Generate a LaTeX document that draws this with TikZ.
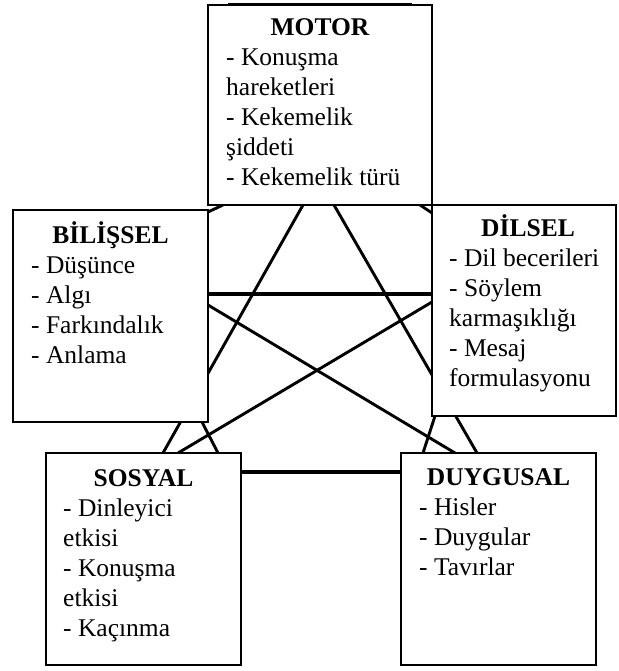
\documentclass[tikz,border=0pt]{standalone}
\usepackage{fontspec}
\setmainfont{Liberation Serif}
\usetikzlibrary{calc}
\pgfdeclarelayer{paper}
\pgfdeclarelayer{background}
\pgfsetlayers{paper,background,main}
\newcommand\bodylines[1]{\vtop{\halign{##\hfil\cr#1\crcr}}}
\begin{document}
\begin{tikzpicture}[x=1pt,y=-1pt,
  box/.style={draw=black, line width=1.5pt, fill=white, inner sep=0pt, outer sep=0pt, anchor=north west},
  ttl/.style={font=\fontsize{25.5}{30}\selectfont\bfseries, inner sep=0pt, anchor=base},
  body/.style={font=\fontsize{25.5}{30}\selectfont, inner sep=0pt, anchor=base west},
  link/.style={line width=2.9pt, draw=black},
  hlink/.style={line width=3.9pt, draw=black},
  rim/.style={line width=2.4pt, draw=black}]
\begin{pgfonlayer}{paper}
\fill[white] (0,0) rectangle (618,671);
\end{pgfonlayer}
\useasboundingbox (0,0) rectangle (618,671);

% boxes
\node[box, minimum width=224pt, minimum height=200pt] (motor) at (208,5) {};
\node[box, minimum width=195pt, minimum height=212pt] (bilissel) at (13,210) {};
\node[box, minimum width=184pt, minimum height=211pt] (dilsel) at (432,205) {};
\node[box, minimum width=195pt, minimum height=212pt] (sosyal) at (46,453) {};
\node[box, minimum width=195pt, minimum height=212pt] (duygusal) at (401,453) {};

% heavier rims of the MOTOR box
\draw[rim] ($(motor.north west)+(20,-0.4)$) -- ($(motor.north east)+(-20,-0.4)$);
\draw[rim] ($(motor.south west)+(19,0)$) -- ($(motor.south east)+(-20,0)$);

% texts
\node[ttl] (motor-t) at (320,35.5) {MOTOR};
\node[body] (motor-b) at (226,66) {\bodylines{- Konuşma\cr hareketleri\cr - Kekemelik\cr şiddeti\cr - Kekemelik türü}};

\node[ttl] (bilissel-t) at (110.5,243) {BİLİŞSEL};
\node[body] (bilissel-b) at (31,273) {\bodylines{- Düşünce\cr - Algı\cr - Farkındalık\cr - Anlama}};

\node[ttl] (dilsel-t) at (528,236) {DİLSEL};
\node[body] (dilsel-b) at (449,266) {\bodylines{- Dil becerileri\cr - Söylem\cr karmaşıklığı\cr - Mesaj\cr formulasyonu}};

\node[ttl] (sosyal-t) at (143.5,486) {SOSYAL};
\node[body] (sosyal-b) at (63,516) {\bodylines{- Dinleyici\cr etkisi\cr - Konuşma\cr etkisi\cr - Kaçınma}};

\node[ttl] (duygusal-t) at (498.5,485) {DUYGUSAL};
\node[body] (duygusal-b) at (419,515) {\bodylines{- Hisler\cr - Duygular\cr - Tavırlar}};

% connectors (behind the boxes)
\begin{pgfonlayer}{background}
\draw[link] ($(motor.south west)+(95,0)$) -- ($(sosyal.north west)+(117,0)$);
\draw[link] ($(motor.south west)+(126,0)$) -- ($(duygusal.north west)+(76,0)$);
\draw[hlink] ($(bilissel.north east)+(0,84)$) -- ($(dilsel.north west)+(0,89)$);
\draw[link] ($(bilissel.north east)+(0,95)$) -- ($(duygusal.north west)+(54,0)$);
\draw[link] ($(dilsel.north west)+(0,97)$) -- ($(sosyal.north west)+(132,0)$);
\draw[hlink] ($(sosyal.north east)+(0,19)$) -- ($(duygusal.north west)+(0,19)$);
\draw[link] ($(bilissel.south west)+(189,0)$) -- ($(sosyal.north west)+(172,0)$);
\draw[link] ($(dilsel.south west)+(3,0)$) -- ($(duygusal.north west)+(22,0)$);
\draw[link] ($(motor.south west)+(15,0)$) -- ($(bilissel.north east)+(0,2)$);
\draw[link] ($(motor.south east)+(-12,0)$) -- ($(dilsel.north west)+(0,8)$);
\end{pgfonlayer}
\end{tikzpicture}
\end{document}
